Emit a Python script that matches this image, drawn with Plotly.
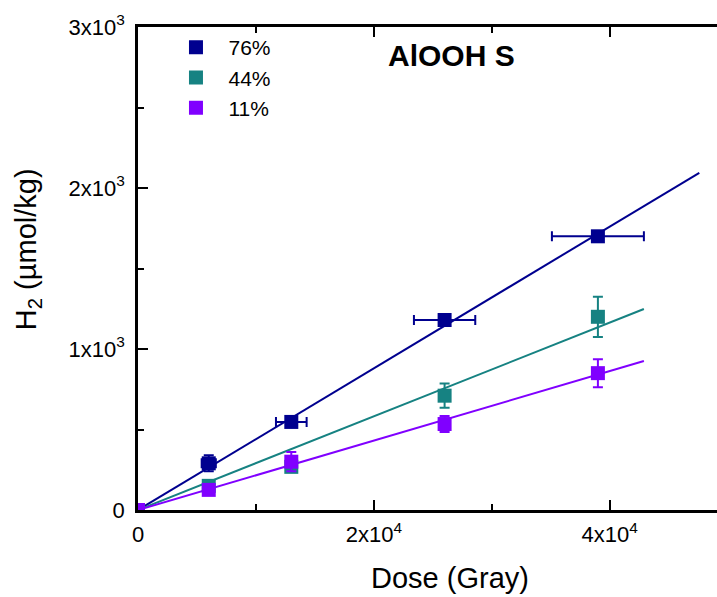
import plotly.graph_objects as go

# ---- data ----
dose = [0, 6000, 13000, 26000, 39000]
dose_err = [0, 600, 1300, 2600, 3900]

series_names = ["76%", "44%", "11%"]
h2_76 = [0, 290, 547, 1180, 1700]
h2_44 = [0, 150, 268, 710, 1200]
h2_11 = [0, 125, 300, 534, 850]
err_76 = [0, 50, 20, 20, 15]
err_44 = [0, 30, 30, 75, 125]
err_11 = [0, 25, 60, 50, 87]
xerr_76 = dose_err
xerr_44 = [0, 0, 0, 0, 0]
xerr_11 = [0, 0, 0, 0, 0]

# linear fits (through origin): slope and end dose of the drawn line
fit_slope = [0.0440, 0.0291, 0.02157]
fit_xend = [47600, 42900, 42900]

colors = ["#00008f", "#168282", "#8000ff"]

x_tickvals = [0, 20000, 40000]
x_ticktext = ["0", "2x10<sup>4</sup>", "4x10<sup>4</sup>"]
x_minor = [10000, 30000]
y_tickvals = [0, 1000, 2000, 3000]
y_ticktext = ["0", "1x10<sup>3</sup>", "2x10<sup>3</sup>", "3x10<sup>3</sup>"]
y_minor = [500, 1500, 2500]

FONT = "Liberation Sans, Arial, sans-serif"

fig = go.Figure()

ys = [h2_76, h2_44, h2_11]
yerrs = [err_76, err_44, err_11]
xerrs = [xerr_76, xerr_44, xerr_11]

# fit lines first (under markers)
for i in range(3):
    fig.add_trace(go.Scatter(
        x=[0, fit_xend[i]], y=[0, fit_slope[i] * fit_xend[i]],
        mode="lines", line=dict(color=colors[i], width=2),
        showlegend=False, hoverinfo="skip"))

for i in range(3):
    fig.add_trace(go.Scatter(
        x=dose, y=ys[i], mode="markers", name=series_names[i],
        marker=dict(symbol="square", size=14, color=colors[i],
                    line=dict(width=0)),
        error_y=dict(type="data", array=yerrs[i], color=colors[i],
                     thickness=2, width=5),
        error_x=dict(type="data", array=xerrs[i], color=colors[i],
                     thickness=2, width=5),
    ))

axis_common = dict(
    showline=True, linecolor="black", linewidth=2.5,
    ticks="inside", ticklen=10, tickwidth=2, tickcolor="black",
    showgrid=False, zeroline=False, automargin=False,
    tickfont=dict(family=FONT, size=22, color="black"),
)

fig.update_xaxes(
    range=[0, 49100], tickmode="array", tickvals=x_tickvals, ticktext=x_ticktext,
    mirror="ticks", ticklabelstandoff=3,
    minor=dict(tickmode="array", tickvals=x_minor, ticks="inside", ticklen=6,
               tickwidth=2, tickcolor="black", showgrid=False),
    **axis_common)
fig.update_yaxes(
    range=[0, 3000], tickmode="array", tickvals=y_tickvals, ticktext=y_ticktext,
    mirror=False, ticklabelstandoff=6,
    minor=dict(tickmode="array", tickvals=y_minor, ticks="inside", ticklen=6,
               tickwidth=2, tickcolor="black", showgrid=False),
    **axis_common)

fig.update_layout(
    width=717, height=597,
    margin=dict(l=138, r=0, t=27, b=87),
    paper_bgcolor="white", plot_bgcolor="white",
    font=dict(family=FONT, color="black"),
    legend=dict(x=0.044, y=1.0, xanchor="left", yanchor="top",
                itemwidth=55,
                font=dict(family=FONT, size=21, color="black"),
                bgcolor="rgba(0,0,0,0)"),
    annotations=[
        dict(text="<b>AlOOH S</b>", xref="paper", yref="paper",
             x=0.5406, y=0.942, xanchor="center", yanchor="middle",
             showarrow=False, font=dict(family=FONT, size=30, color="black")),
        dict(text="Dose (Gray)", xref="paper", yref="paper",
             x=0.539, y=-0.141, xanchor="center", yanchor="middle",
             showarrow=False, font=dict(family=FONT, size=29, color="black")),
        dict(text="H<sub>2</sub> (µmol/kg)", xref="paper", yref="paper",
             x=-0.19, y=0.54, xanchor="center", yanchor="middle", textangle=-90,
             showarrow=False, font=dict(family=FONT, size=29, color="black")),
    ],
)

fig.write_html("out.html", config={"displayModeBar": False},
               post_script="document.body.style.margin='0';document.body.style.overflow='hidden';")
